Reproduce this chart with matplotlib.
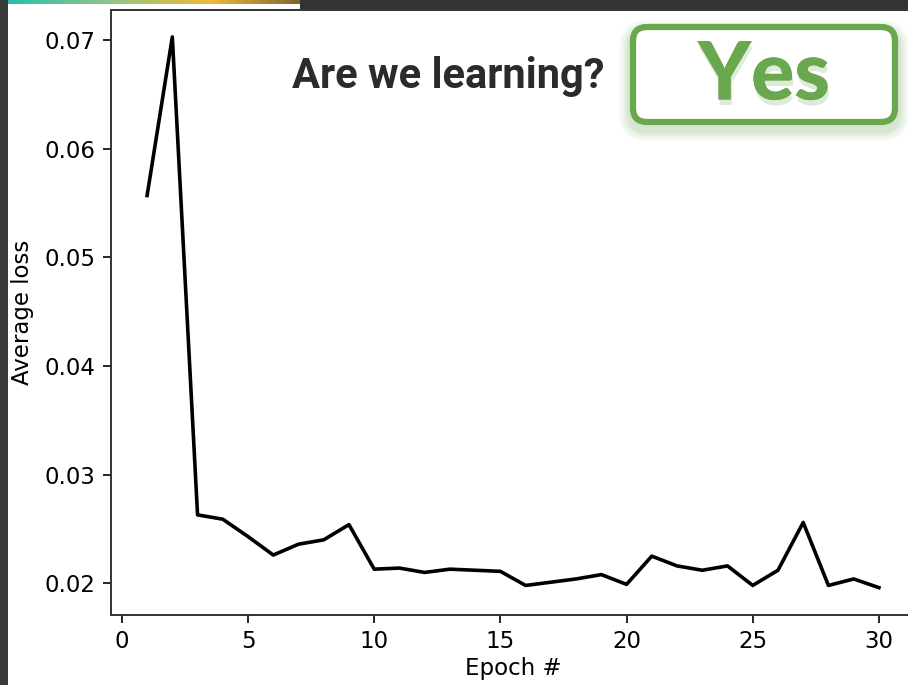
import numpy as np
import matplotlib
matplotlib.use("Agg")
import matplotlib.pyplot as plt
import matplotlib.patheffects as pe
from matplotlib.patches import FancyBboxPatch, Rectangle
from matplotlib.colors import LinearSegmentedColormap

plt.rcParams["font.family"] = "DejaVu Sans"

# average loss per epoch
epochs = list(range(1, 31))
avg_loss = [0.0557, 0.0703, 0.0263, 0.0259, 0.0243, 0.0226, 0.0236, 0.0240,
            0.0254, 0.0213, 0.0214, 0.0210, 0.0213, 0.0212, 0.0211, 0.0198,
            0.0201, 0.0204, 0.0208, 0.0199, 0.0225, 0.0216, 0.0212, 0.0216,
            0.0198, 0.0212, 0.0256, 0.0198, 0.0204, 0.0196]

x_ticks = [0, 5, 10, 15, 20, 25, 30]
y_ticks = [0.02, 0.03, 0.04, 0.05, 0.06, 0.07]

title_text = "Are we learning?"
answer_text = "Yes"
green = "#6aa84f"

W, H = 908, 685
fig = plt.figure(figsize=(W / 100, H / 100), dpi=100)
fig.patch.set_facecolor("white")

# screenshot frame: dark strips on the left and top with a coloured gradient
bg = fig.add_axes([0, 0, 1, 1], zorder=-5)
bg.set_xlim(0, W)
bg.set_ylim(H, 0)
bg.axis("off")
top = LinearSegmentedColormap.from_list("top", ["#1fbfae", "#8cc58a", "#f0b93a", "#6b5a2e", "#333333"])
bg.add_patch(Rectangle((300, 0), W - 300, 8.5, color="#333333", lw=0))
bg.imshow(np.linspace(0, 1, 256)[None, :], cmap=top, aspect="auto",
          extent=(0, 420, 3.5, 0))
left = LinearSegmentedColormap.from_list("left", ["#1fbfae", "#2ab5a0", "#9c9a55", "#6b5a2e", "#3a3a3a", "#3a3a3a"])
bg.add_patch(Rectangle((0, 0), 8, H, color="#3a3a3a", lw=0))
bg.imshow(np.linspace(0, 1, 256)[:, None], cmap=left, aspect="auto",
          extent=(0, 8, 300, 0))

ax = fig.add_axes([110.5 / W, 70 / H, 805 / W, 605.5 / H])
ax.plot(epochs, avg_loss, color="black", lw=2.6)
ax.set_xlim(-0.45, 31.45)
ax.set_ylim(0.01708, 0.07283)
ax.set_xticks(x_ticks)
ax.set_yticks(y_ticks)
ax.tick_params(labelsize=16.5, length=6, width=1.2, pad=5)
ax.set_xlabel("Epoch #", fontsize=16.5, labelpad=3)
ax.set_ylabel("Average loss", fontsize=16.5, labelpad=7)
for s in ax.spines.values():
    s.set_linewidth(1.4)
    s.set_color("#333333")

# annotation overlay in pixel coordinates
ov = fig.add_axes([0, 0, 1, 1], zorder=5)
ov.set_xlim(0, W)
ov.set_ylim(H, 0)
ov.axis("off")
ov.text(448, 76, title_text, fontsize=30, fontweight="bold", family="Roboto",
        color="#2b2b2b", ha="center", va="center")

# soft green glow under the box
for i, a in enumerate([0.05, 0.06, 0.08, 0.10]):
    grow = 8 - 2 * i
    ov.add_patch(FancyBboxPatch((633 - grow / 2, 30 - grow / 2 + 4), 262 + grow, 93 + grow,
                                boxstyle="round,pad=0,rounding_size=15",
                                fc="none", ec=green, lw=6 + grow, alpha=a))
ov.add_patch(FancyBboxPatch((633, 27), 262, 95, boxstyle="round,pad=0,rounding_size=14",
                            fc="white", ec=green, lw=4.5))
ov.text(764, 76, answer_text, fontsize=58, fontweight="black", family="Lato",
        color=green, ha="center", va="center",
        path_effects=[pe.withSimplePatchShadow(offset=(1, -4), shadow_rgbFace=green, alpha=0.22),
                      pe.Normal()])

fig.savefig("out.png", dpi=100)
